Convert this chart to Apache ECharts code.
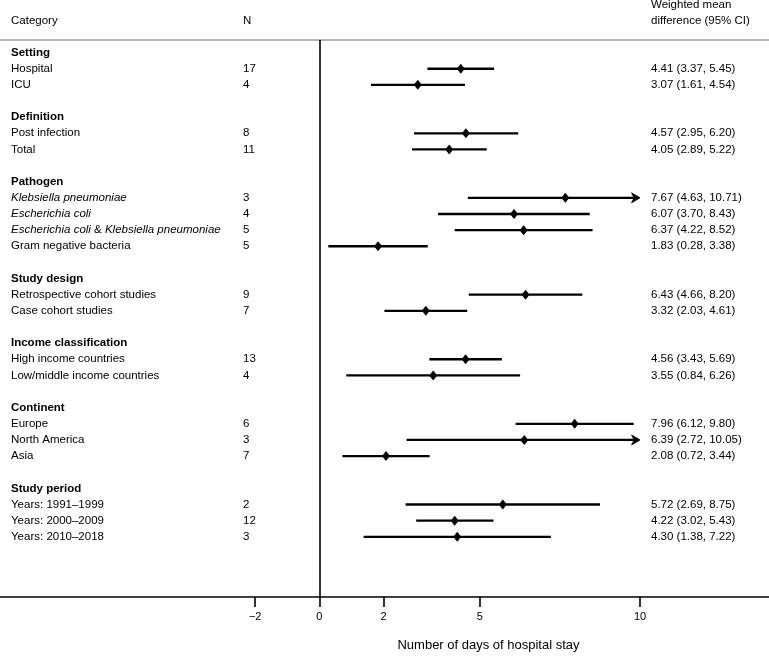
<!DOCTYPE html>
<html>
<head>
<meta charset="utf-8">
<script src="https://cdn.jsdelivr.net/npm/echarts@6/dist/echarts.min.js"></script>
<style>
html,body{margin:0;padding:0;background:#fff;}
#chart{width:769px;height:657px;}
</style>
</head>
<body>
<div id="chart"></div>
<script>
// ---------- data ----------
const groupNames = ['Setting', 'Definition', 'Pathogen', 'Study design', 'Income classification', 'Continent', 'Study period'];
const groupSizes = [2, 2, 4, 2, 2, 3, 3];
const categories = [
  'Hospital', 'ICU',
  'Post infection', 'Total',
  'Klebsiella pneumoniae', 'Escherichia coli', 'Escherichia coli & Klebsiella pneumoniae', 'Gram negative bacteria',
  'Retrospective cohort studies', 'Case cohort studies',
  'High income countries', 'Low/middle income countries',
  'Europe', 'North America', 'Asia',
  'Years: 1991\u20131999', 'Years: 2000\u20132009', 'Years: 2010\u20132018'
];
const nValues = [17, 4, 8, 11, 3, 4, 5, 5, 9, 7, 13, 4, 6, 3, 7, 2, 12, 3];
const means  = [4.41, 3.07, 4.57, 4.05, 7.67, 6.07, 6.37, 1.83, 6.43, 3.32, 4.56, 3.55, 7.96, 6.39, 2.08, 5.72, 4.22, 4.30];
const lowers = [3.37, 1.61, 2.95, 2.89, 4.63, 3.70, 4.22, 0.28, 4.66, 2.03, 3.43, 0.84, 6.12, 2.72, 0.72, 2.69, 3.02, 1.38];
const uppers = [5.45, 4.54, 6.20, 5.22, 10.71, 8.43, 8.52, 3.38, 8.20, 4.61, 5.69, 6.26, 9.80, 10.05, 3.44, 8.75, 5.43, 7.22];
const italicTerms = ['Klebsiella pneumoniae', 'Escherichia coli'];
const xTicks = [-2, 0, 2, 5, 10];
const axisCap = 10;
const headerCategory = 'Category';
const headerN = 'N';
const headerEffect = ['Weighted mean', 'difference (95% CI)'];
const axisTitle = 'Number of days of hospital stay';

// ---------- build rows ----------
const itemRows = [];
const headerRows = [];
let r = 0;
groupNames.forEach((g, gi) => {
  headerRows.push([g, r]);
  r++;
  for (let j = 0; j < groupSizes[gi]; j++) { itemRows.push(r); r++; }
  r++; // blank row
});

const FONT = "'Liberation Sans', Arial, Helvetica, sans-serif";
const FS = 11.5;

function richLabel(s) {
  const parts = [];
  const re = new RegExp('(' + italicTerms.join('|') + ')', 'g');
  let last = 0, m;
  while ((m = re.exec(s)) !== null) {
    if (m.index > last) parts.push('{n|' + s.slice(last, m.index) + '}');
    parts.push('{i|' + m[0] + '}');
    last = m.index + m[0].length;
  }
  if (last < s.length) parts.push('{n|' + s.slice(last) + '}');
  return parts.join('');
}
const rich = {
  n: { fontSize: FS, fontFamily: FONT, fill: '#000' },
  i: { fontSize: FS, fontFamily: FONT, fontStyle: 'italic', fill: '#000' }
};

const ciText = means.map((m, i) => m.toFixed(2) + ' (' + lowers[i].toFixed(2) + ', ' + uppers[i].toFixed(2) + ')');

const textData = [];
headerRows.forEach(h => textData.push({ value: [0, h[1]], kind: 'h', label: h[0] }));
categories.forEach((c, i) => textData.push({ value: [0, itemRows[i]], kind: 'i', idx: i }));

const ciData = categories.map((c, i) => [lowers[i], itemRows[i], uppers[i], i]);
const pointData = categories.map((c, i) => [means[i], itemRows[i]]);

const chart = echarts.init(document.getElementById('chart'), null, { renderer: 'canvas' });

const option = {
  animation: false,
  backgroundColor: '#fff',
  grid: { left: 0, right: 0, top: 40, bottom: 54.5, containLabel: false },
  xAxis: {
    type: 'value',
    min: -9.956, max: 14.02,
    splitLine: { show: false },
    axisLine: { show: true, onZero: false, lineStyle: { color: '#000', width: 1.6 } },
    axisTick: { show: true, customValues: xTicks, length: 10, lineStyle: { color: '#000', width: 1.6 } },
    axisLabel: { show: true, customValues: xTicks, color: '#000', fontSize: 11, fontFamily: FONT, margin: 14,
      formatter: v => (v < 0 ? '\u2212' + Math.abs(v) : String(v)) },
    name: axisTitle,
    nameLocation: 'middle',
    nameGap: 42,
    nameTextStyle: { color: '#000', fontSize: 13, fontFamily: FONT, padding: [0, 0, 0, 208] }
  },
  yAxis: {
    type: 'value', inverse: true, min: -0.78, max: 33.73, show: false
  },
  graphic: [
    { type: 'line', shape: { x1: 0, y1: 40, x2: 769, y2: 40 }, style: { stroke: '#b4b4b4', lineWidth: 2 }, silent: true },
    { type: 'text', x: 11, y: 20.7, style: { text: headerCategory, font: FS + 'px ' + FONT, fill: '#000', verticalAlign: 'middle' } },
    { type: 'text', x: 243, y: 20.7, style: { text: headerN, font: FS + 'px ' + FONT, fill: '#000', verticalAlign: 'middle' } },
    { type: 'text', x: 651, y: 5, style: { text: headerEffect[0], font: FS + 'px ' + FONT, fill: '#000', verticalAlign: 'middle' } },
    { type: 'text', x: 651, y: 20.7, style: { text: headerEffect[1], font: FS + 'px ' + FONT, fill: '#000', verticalAlign: 'middle' } }
  ],
  series: [
    {
      type: 'custom',
      name: 'ci',
      clip: false,
      silent: true,
      encode: { x: [0, 2], y: 1 },
      data: ciData,
      renderItem: function (params, api) {
        const lo = api.value(0), row = api.value(1), hi = api.value(2);
        const p1 = api.coord([lo, row]);
        const truncated = hi > axisCap;
        const p2 = api.coord([Math.min(hi, axisCap), row]);
        const lw = 2.3;
        const children = [];
        children.push({
          type: 'line',
          shape: { x1: p1[0], y1: p1[1], x2: truncated ? p2[0] - 3 : p2[0], y2: p2[1] },
          style: { stroke: '#000', lineWidth: lw }
        });
        if (truncated) {
          const x = p2[0], y = p2[1];
          children.push({
            type: 'polygon',
            shape: { points: [[x, y], [x - 8.5, y - 5], [x - 6, y], [x - 8.5, y + 5]] },
            style: { fill: '#000', stroke: '#000', lineWidth: 0.8 }
          });
        }
        return { type: 'group', children: children };
      },
      z: 2
    },
    {
      type: 'scatter',
      name: 'mean',
      symbol: 'diamond',
      symbolSize: [8, 10],
      itemStyle: { color: '#000', opacity: 1 },
      data: pointData,
      silent: true,
      z: 3,
      markLine: {
        silent: true,
        symbol: ['none', 'none'],
        label: { show: false },
        lineStyle: { color: '#000', width: 1.6, type: 'solid' },
        data: [{ xAxis: 0 }]
      }
    },
    {
      type: 'custom',
      name: 'text',
      clip: false,
      silent: true,
      encode: { x: 0, y: 1 },
      data: textData,
      renderItem: function (params, api) {
        const d = textData[params.dataIndex];
        const y = api.coord([0, api.value(1)])[1];
        const x0 = params.coordSys.x;
        if (d.kind === 'h') {
          return {
            type: 'text', x: x0 + 11, y: y,
            style: { text: d.label, font: 'bold ' + FS + 'px ' + FONT, fill: '#000', verticalAlign: 'middle' }
          };
        }
        const i = d.idx;
        return {
          type: 'group',
          children: [
            { type: 'text', x: x0 + 11, y: y,
              style: { text: richLabel(categories[i]), rich: rich, fontSize: FS, fontFamily: FONT, fill: '#000', verticalAlign: 'middle' } },
            { type: 'text', x: x0 + 243, y: y,
              style: { text: String(nValues[i]), font: FS + 'px ' + FONT, fill: '#000', verticalAlign: 'middle' } },
            { type: 'text', x: x0 + 651, y: y,
              style: { text: ciText[i], font: FS + 'px ' + FONT, fill: '#000', verticalAlign: 'middle' } }
          ]
        };
      }
    }
  ]
};
chart.setOption(option);
</script>
</body>
</html>
